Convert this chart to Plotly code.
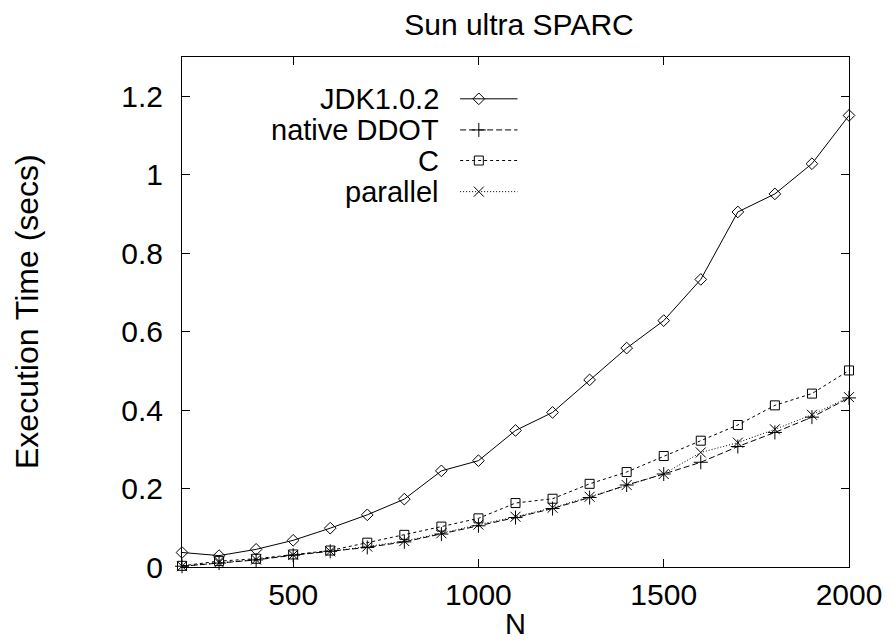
import plotly.graph_objects as go

# ---- data ----
N = [200, 300, 400, 500, 600, 700, 800, 900, 1000, 1100, 1200, 1300, 1400,
     1500, 1600, 1700, 1800, 1900, 2000]
jdk = [0.037, 0.029, 0.045, 0.068, 0.099, 0.133, 0.173, 0.245, 0.271, 0.348,
       0.394, 0.477, 0.558, 0.628, 0.733, 0.905, 0.951, 1.028, 1.151]
ddot = [0.002, 0.010, 0.018, 0.030, 0.040, 0.050, 0.064, 0.084, 0.105, 0.126,
        0.149, 0.177, 0.209, 0.237, 0.267, 0.307, 0.343, 0.382, 0.431]
c_vals = [0.003, 0.015, 0.021, 0.032, 0.042, 0.062, 0.082, 0.103, 0.124, 0.163,
          0.174, 0.212, 0.242, 0.283, 0.322, 0.362, 0.412, 0.442, 0.501]
parallel = [0.002, 0.011, 0.019, 0.031, 0.040, 0.052, 0.066, 0.086, 0.108, 0.128,
            0.151, 0.179, 0.209, 0.237, 0.292, 0.317, 0.351, 0.388, 0.433]

series_names = ["JDK1.0.2", "native DDOT", "C", "parallel"]
x_ticks = [500, 1000, 1500, 2000]
y_ticks = [0, 0.2, 0.4, 0.6, 0.8, 1.0, 1.2]
y_ticktext = ["0", "0.2", "0.4", "0.6", "0.8", "1", "1.2"]

FONT = "Liberation Sans, Arial, Helvetica, sans-serif"

styles = [
    dict(dash="solid", symbol="diamond-open", size=9),
    dict(dash="6px,3px", symbol="cross-thin-open", size=10),
    dict(dash="3px,3px", symbol="square-open", size=9),
    dict(dash="1px,2px", symbol="x-thin-open", size=10),
]
all_vals = [jdk, ddot, c_vals, parallel]

fig = go.Figure()
for name, vals, st in zip(series_names, all_vals, styles):
    fig.add_trace(go.Scatter(
        x=N, y=vals, mode="lines+markers", name=name, showlegend=False,
        cliponaxis=False,
        line=dict(color="black", width=1, dash=st["dash"]),
        marker=dict(symbol=st["symbol"], size=st["size"], color="black",
                    line=dict(color="black", width=1)),
    ))

# ---- custom legend (text on the left, sample on the right) ----
# overlay axes in plot-area fractions
leg_y = [0.918, 0.857, 0.797, 0.736]
leg_x0, leg_x1, leg_xm = 0.417, 0.503, 0.445
for name, st, ly in zip(series_names, styles, leg_y):
    fig.add_trace(go.Scatter(
        x=[leg_x0, leg_x1], y=[ly, ly], mode="lines", xaxis="x2", yaxis="y2",
        showlegend=False, hoverinfo="skip", cliponaxis=False,
        line=dict(color="black", width=1, dash=st["dash"]),
    ))
    fig.add_trace(go.Scatter(
        x=[leg_xm], y=[ly], mode="markers", xaxis="x2", yaxis="y2",
        showlegend=False, hoverinfo="skip", cliponaxis=False,
        marker=dict(symbol=st["symbol"], size=st["size"], color="black",
                    line=dict(color="black", width=1)),
    ))
    fig.add_annotation(x=0.388, y=ly, xref="x2", yref="y2", text=name,
                       showarrow=False, xanchor="right", yanchor="middle",
                       font=dict(family=FONT, size=29, color="black"))

axis_common = dict(showgrid=False, zeroline=False, showline=True,
                   linecolor="black", linewidth=1, mirror="ticks",
                   ticks="inside", ticklen=8, tickcolor="black", tickwidth=1,
                   tickfont=dict(family=FONT, size=30, color="black"))

fig.update_layout(
    width=894, height=643,
    margin=dict(l=182, r=39, t=57, b=76, pad=0),
    paper_bgcolor="white", plot_bgcolor="white",
    xaxis=dict(range=[200, 2000], tickvals=x_ticks, ticklabelstandoff=1,
               **axis_common),
    yaxis=dict(range=[0, 1.3], tickvals=y_ticks, ticktext=y_ticktext,
               ticklabelstandoff=12, **axis_common),
    xaxis2=dict(range=[0, 1], overlaying="x", visible=False),
    yaxis2=dict(range=[0, 1], overlaying="y", visible=False),
    title=dict(text="Sun ultra SPARC", x=0.5805, xanchor="center",
               y=1 - 24 / 643, yanchor="middle",
               font=dict(family=FONT, size=30, color="black")),
    showlegend=False,
)

fig.add_annotation(text="N", xref="paper", yref="paper", x=0.5, y=0,
                   yshift=-57, xanchor="center", yanchor="middle",
                   showarrow=False,
                   font=dict(family=FONT, size=29, color="black"))
fig.add_annotation(text="Execution Time (secs)", xref="paper", yref="paper",
                   x=0, xshift=-155, y=0.5, xanchor="center", yanchor="middle",
                   textangle=-90, showarrow=False,
                   font=dict(family=FONT, size=32, color="black"))

fig.write_html("out.html")
